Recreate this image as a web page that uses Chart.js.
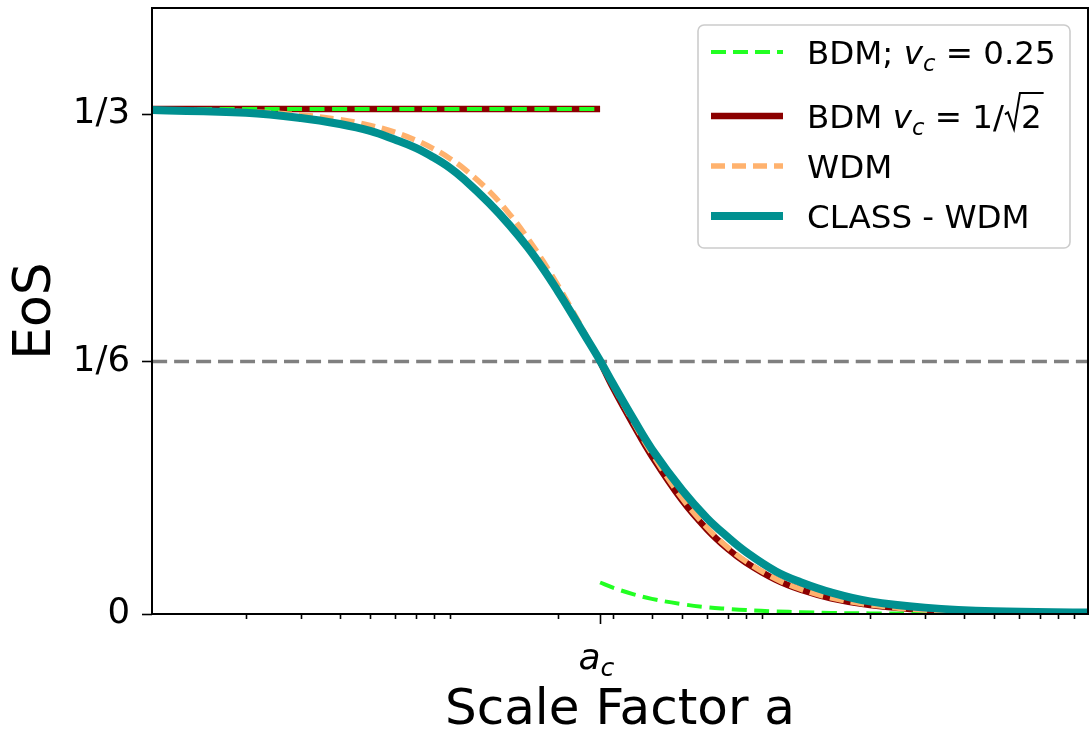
<!DOCTYPE html>
<html>
<head>
<meta charset="utf-8">
<script src="https://cdn.jsdelivr.net/npm/chart.js@4.4.1/dist/chart.umd.min.js"></script>
<style>
  html, body { margin: 0; padding: 0; background: #fff; }
  #wrap { width: 1090px; height: 729px; }
</style>
</head>
<body>
<div id="wrap"><canvas id="eosChart"></canvas></div>
<script>
// --- données ---
const aC = 2.73e-4;           // facteur d'échelle critique a_c
const aMin = 1e-5, aMax = 1e-2;

const scaleFactor = [1e-5, 2e-5, 3e-5, 4e-5, 5e-5, 6e-5, 7e-5, 8e-5, 9e-5, 1e-4,
  1.2e-4, 1.4e-4, 1.6e-4, 1.8e-4, 2e-4, 2.2e-4, 2.4e-4, 2.73e-4, 3e-4, 3.5e-4,
  4e-4, 5e-4, 6e-4, 7e-4, 8e-4, 1e-3, 1.2e-3, 1.5e-3, 2e-3, 3e-3, 5e-3, 1e-2];

const wdmEoS = [0.3329, 0.3316, 0.3294, 0.3263, 0.3225, 0.3180, 0.3128, 0.3070, 0.3007, 0.2939,
  0.2794, 0.2639, 0.2481, 0.2323, 0.2169, 0.2021, 0.1880, 0.1667, 0.1510, 0.1261,
  0.1059, 0.0765, 0.0572, 0.0440, 0.0348, 0.0231, 0.0164, 0.0107, 0.0061, 0.0027, 0.0010, 0.0003];

const classEoS = [0.3326, 0.3308, 0.3274, 0.3234, 0.3189, 0.3132, 0.3077, 0.3013, 0.2946, 0.2870,
  0.2715, 0.2566, 0.2420, 0.2274, 0.2130, 0.1993, 0.1863, 0.1672, 0.1521, 0.1283,
  0.1088, 0.0818, 0.0634, 0.0508, 0.0411, 0.0281, 0.0210, 0.0143, 0.0083, 0.0042, 0.0018, 0.0010];

// BDM : deux régimes, avant et après a_c
const earlyScale = [1e-5, 2.73e-4];
const bdmHighEarly = [0.3333, 0.3333];
const bdmLowEarly = [0.3333, 0.3333];

const lateScale = [2.73e-4, 3e-4, 3.5e-4, 4e-4, 5e-4, 6e-4, 7e-4, 8e-4, 1e-3, 1.2e-3,
  1.5e-3, 2e-3, 3e-3, 5e-3, 1e-2];
const bdmHighLate = [0.1667, 0.1495, 0.1245, 0.1042, 0.0750, 0.0560, 0.0430, 0.0340, 0.0225, 0.0160,
  0.0104, 0.0059, 0.0026, 0.0009, 0.0002];
const bdmLowLate = [0.0208, 0.0174, 0.0130, 0.0100, 0.0065, 0.0045, 0.0034, 0.0026, 0.0017, 0.0012,
  0.0007, 0.0004, 0.0002, 0.0001, 0.00002];

const refScale = [1e-5, 1e-2];
const refLevel = [1 / 6, 1 / 6];

const yTickValues = [0, 1 / 6, 0.33];
const yTickLabels = ["0", "1/6", "1/3"];

const COLORS = {
  bdmLow: "#22ff22",
  bdmHigh: "#8b0000",
  wdm: "#ffb26e",
  classWdm: "#009090",
  ref: "#808080"
};

function toPoints(xs, ys) {
  return xs.map((x, i) => ({ x: x, y: ys[i] }));
}

// Deux morceaux séparés par un trou (pas de trait vertical à a_c)
function twoPieces(xs1, ys1, xs2, ys2) {
  return toPoints(xs1, ys1).concat([{ x: aC, y: null }], toPoints(xs2, ys2));
}

// graduations secondaires de l'axe log (les décades sont remplacées par a_c)
const xMinorTicks = [];
[1e-5, 1e-4, 1e-3].forEach(dec => {
  for (let m = 2; m <= 9; m++) xMinorTicks.push(m * dec);
});

const FONT = "'DejaVu Sans', 'Liberation Sans', sans-serif";

// Texte "math" : morceaux normaux, italiques, indices
function drawMath(ctx, parts, x, base, size) {
  let cx = x;
  parts.forEach(p => {
    const kind = p[1];
    if (kind === "n") ctx.font = size + "px " + FONT;
    else if (kind === "i") ctx.font = "italic " + size + "px " + FONT;
    else if (kind === "s") ctx.font = "italic " + (size * 0.7) + "px " + FONT;
    const dy = kind === "s" ? size * 0.2 : 0;
    if (kind === "sqrt") {
      ctx.font = size + "px " + FONT;
      const w = ctx.measureText(p[0]).width;
      ctx.save();
      ctx.lineWidth = 2;
      ctx.strokeStyle = "#000";
      ctx.beginPath();
      ctx.moveTo(cx + 1, base - size * 0.42);
      ctx.lineTo(cx + 4, base - size * 0.48);
      ctx.lineTo(cx + 10, base + 1);
      ctx.lineTo(cx + 16, base - size * 1.08);
      ctx.lineTo(cx + 19 + w, base - size * 1.08);
      ctx.stroke();
      ctx.restore();
      ctx.fillText(p[0], cx + 17, base);
      cx += 19 + w;
      return;
    }
    ctx.fillText(p[0], cx, base + dy);
    cx += ctx.measureText(p[0]).width;
  });
}

const legendRows = [
  { color: COLORS.bdmLow, width: 4, dash: [15, 7], base: 64,
    parts: [["BDM; ", "n"], ["v", "i"], ["c", "s"], [" = 0.25", "n"]] },
  { color: COLORS.bdmHigh, width: 6.5, dash: [], base: 128,
    parts: [["BDM ", "n"], ["v", "i"], ["c", "s"], [" = 1/", "n"], ["2", "sqrt"]] },
  { color: COLORS.wdm, width: 5.5, dash: [14, 7], base: 178,
    parts: [["WDM", "n"]] },
  { color: COLORS.classWdm, width: 8, dash: [], base: 228,
    parts: [["CLASS - WDM", "n"]] }
];

const decorPlugin = {
  id: "decor",
  afterDraw(chart) {
    const ctx = chart.ctx;
    const area = chart.chartArea;
    const xs = chart.scales.x;
    ctx.save();

    // cadre
    ctx.strokeStyle = "#000";
    ctx.lineWidth = 2;
    ctx.strokeRect(area.left, area.top, area.right - area.left, area.bottom - area.top);

    // graduations x
    ctx.lineWidth = 1.6;
    ctx.beginPath();
    xMinorTicks.forEach(v => {
      const px = Math.round(xs.getPixelForValue(v)) + 0.5;
      ctx.moveTo(px, area.bottom);
      ctx.lineTo(px, area.bottom + 5);
    });
    const pc = Math.round(xs.getPixelForValue(aC)) + 0.5;
    ctx.moveTo(pc, area.bottom);
    ctx.lineTo(pc, area.bottom + 10);
    ctx.stroke();

    // étiquette a_c
    ctx.fillStyle = "#000";
    ctx.textBaseline = "alphabetic";
    ctx.textAlign = "left";
    drawMath(ctx, [["a", "i"], ["c", "s"]], pc - 22, 669, 36);

    // titre de l'axe x
    ctx.font = "50px " + FONT;
    ctx.textAlign = "center";
    ctx.fillText("Scale Factor a", (area.left + area.right) / 2, 724);

    // titre de l'axe y
    ctx.save();
    ctx.translate(50, (area.top + area.bottom) / 2);
    ctx.rotate(-Math.PI / 2);
    ctx.font = "52px " + FONT;
    ctx.fillText("EoS", 0, 0);
    ctx.restore();

    // légende
    const lx = 698, ly = 25, lw = 372, lh = 223, r = 6;
    ctx.beginPath();
    ctx.moveTo(lx + r, ly);
    ctx.arcTo(lx + lw, ly, lx + lw, ly + lh, r);
    ctx.arcTo(lx + lw, ly + lh, lx, ly + lh, r);
    ctx.arcTo(lx, ly + lh, lx, ly, r);
    ctx.arcTo(lx, ly, lx + lw, ly, r);
    ctx.closePath();
    ctx.fillStyle = "rgba(255,255,255,0.8)";
    ctx.fill();
    ctx.strokeStyle = "#cccccc";
    ctx.lineWidth = 1.6;
    ctx.stroke();

    legendRows.forEach(row => {
      const ym = row.base - 12;
      ctx.beginPath();
      ctx.setLineDash(row.dash);
      ctx.strokeStyle = row.color;
      ctx.lineWidth = row.width;
      ctx.moveTo(711, ym);
      ctx.lineTo(783, ym);
      ctx.stroke();
      ctx.setLineDash([]);
      ctx.fillStyle = "#000";
      ctx.textAlign = "left";
      drawMath(ctx, row.parts, 807, row.base, 32.5);
    });

    ctx.restore();
  }
};

const ctx = document.getElementById("eosChart").getContext("2d");

new Chart(ctx, {
  type: "line",
  data: {
    datasets: [
      {
        label: "BDM; v_c = 0.25",
        data: twoPieces(earlyScale, bdmLowEarly, lateScale, bdmLowLate),
        borderColor: COLORS.bdmLow,
        borderWidth: 4,
        borderDash: [15, 7.5],
        order: 2
      },
      {
        label: "BDM v_c = 1/sqrt(2)",
        data: twoPieces(earlyScale, bdmHighEarly, lateScale, bdmHighLate),
        borderColor: COLORS.bdmHigh,
        borderWidth: 6.5,
        order: 3
      },
      {
        label: "WDM",
        data: toPoints(scaleFactor, wdmEoS),
        borderColor: COLORS.wdm,
        borderWidth: 5.5,
        borderDash: [14, 7],
        order: 1
      },
      {
        label: "CLASS - WDM",
        data: toPoints(scaleFactor, classEoS),
        borderColor: COLORS.classWdm,
        borderWidth: 8,
        order: 0
      },
      {
        label: "1/6",
        data: toPoints(refScale, refLevel),
        borderColor: COLORS.ref,
        borderWidth: 3.5,
        borderDash: [15, 7],
        order: 4
      }
    ]
  },
  options: {
    responsive: true,
    maintainAspectRatio: false,
    animation: false,
    layout: { padding: { top: 8, right: 2, left: 0, bottom: 0 } },
    elements: {
      point: { radius: 0, hoverRadius: 0 },
      line: { tension: 0.4, fill: false, borderCapStyle: "butt" }
    },
    plugins: {
      legend: { display: false },
      tooltip: { enabled: false }
    },
    scales: {
      x: {
        type: "logarithmic",
        min: aMin,
        max: aMax,
        ticks: { display: false },
        grid: { display: false },
        border: { display: false },
        afterFit(scale) {
          scale.height = 115;
          scale.paddingLeft = 0;
          scale.paddingRight = 0;
        }
      },
      y: {
        type: "linear",
        min: 0,
        max: 0.4,
        afterBuildTicks(scale) {
          scale.ticks = yTickValues.map(v => ({ value: v }));
        },
        ticks: {
          callback: (v, i) => yTickLabels[i],
          color: "#000",
          padding: 12,
          font: { family: "DejaVu Sans", size: 35.5 }
        },
        grid: {
          drawOnChartArea: false,
          drawTicks: true,
          tickLength: 10,
          tickColor: "#000",
          tickWidth: 1.6
        },
        border: { display: false },
        afterFit(scale) {
          scale.width = 152;
          scale.paddingTop = 0;
          scale.paddingBottom = 0;
        }
      }
    }
  },
  plugins: [decorPlugin]
});
</script>
</body>
</html>
